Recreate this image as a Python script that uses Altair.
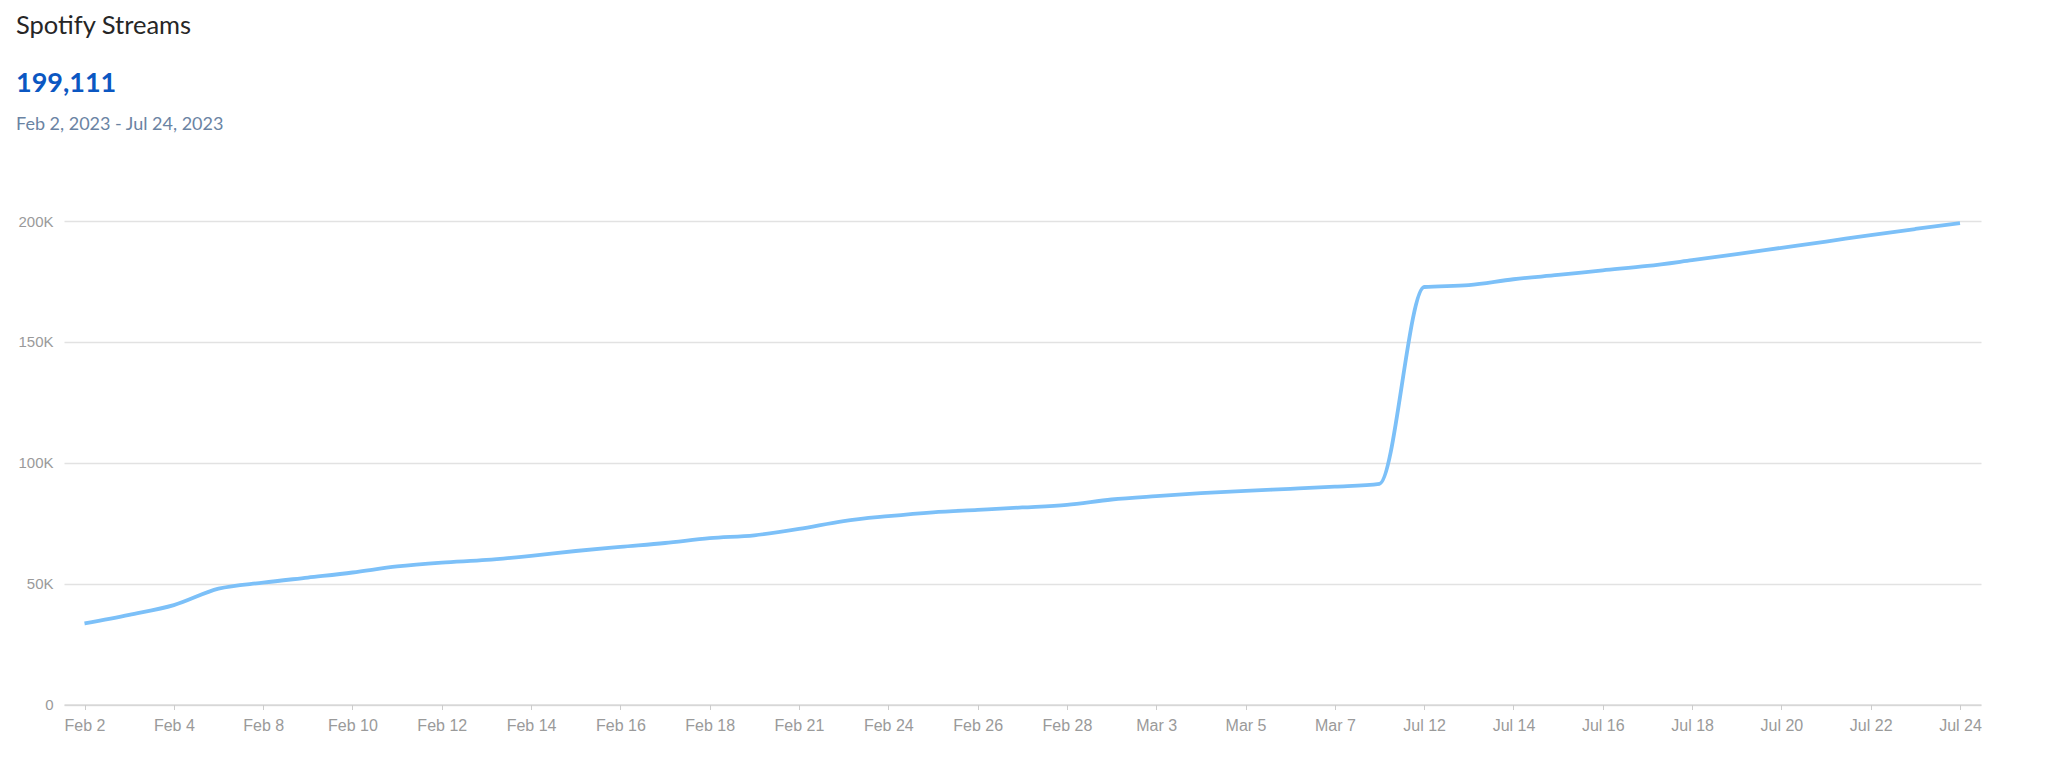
import altair as alt
import pandas as pd

# Tick labels (every second data point)
tick_labels = ["Feb 2", "Feb 4", "Feb 8", "Feb 10", "Feb 12", "Feb 14", "Feb 16", "Feb 18",
               "Feb 21", "Feb 24", "Feb 26", "Feb 28", "Mar 3", "Mar 5", "Mar 7",
               "Jul 12", "Jul 14", "Jul 16", "Jul 18", "Jul 20", "Jul 22", "Jul 24"]

# Cumulative streams (thousands), one per data point
streams_k = [33.5, 37.1, 41.1, 47.9, 50.4, 52.5, 54.6, 57.1, 58.7, 59.8,
             61.5, 63.5, 65.2, 66.8, 68.8, 70.0, 72.6, 75.9, 77.9, 79.5,
             80.5, 81.5, 82.6, 84.8, 86.2, 87.4, 88.4, 89.2, 90.1, 91.3,
             172.7, 173.5, 175.9, 177.7, 179.6, 181.4, 183.8, 186.3, 188.9, 191.5,
             194.2, 196.7, 199.111]

title_text = "Spotify Streams"
total_text = "199,111"
range_text = "Feb 2, 2023 - Jul 24, 2023"

df = pd.DataFrame({"idx": list(range(len(streams_k))),
                   "streams": [v * 1000 for v in streams_k]})

label_arr = "[" + ",".join("'" + s + "'" for s in tick_labels) + "]"

W = 1917
H = 483.5

line = alt.Chart(df).mark_line(
    color="#7cc0f8", strokeWidth=3.8, interpolate="monotone"
).encode(
    x=alt.X("idx:Q",
            scale=alt.Scale(domain=[-0.46, 42.47], nice=False, zero=False),
            axis=alt.Axis(values=list(range(0, 43, 2)),
                          labelExpr=label_arr + "[datum.value/2]",
                          title=None, grid=False,
                          domainColor="#cccccc", domainWidth=1.2,
                          tickColor="#cccccc", tickSize=5,
                          labelPadding=8, labelFont="Liberation Sans",
                          labelFontSize=16, labelColor="#9a9a9a",
                          labelFlush=False, labelOverlap=False)),
    y=alt.Y("streams:Q",
            scale=alt.Scale(domain=[0, 200000], nice=False),
            axis=alt.Axis(values=[0, 50000, 100000, 150000, 200000],
                          labelExpr="datum.value == 0 ? '0' : (datum.value/1000) + 'K'",
                          title=None, domain=False, ticks=False,
                          gridColor="#e2e2e2", gridWidth=1.3,
                          labelPadding=11, labelFont="Liberation Sans",
                          labelFontSize=15, labelColor="#9a9a9a"))
)

head_df = pd.DataFrame({"t": [title_text]})
title_mark = alt.Chart(head_df).mark_text(
    align="left", baseline="alphabetic", font="Lato", fontSize=25.5,
    color="#262626"
).encode(text="t:N", x=alt.value(-48), y=alt.value(-187))

num_df = pd.DataFrame({"t": [total_text]})
num_mark = alt.Chart(num_df).mark_text(
    align="left", baseline="alphabetic", font="Lato", fontSize=27,
    fontWeight="bold", color="#0b57c2"
).encode(text="t:N", x=alt.value(-48), y=alt.value(-129))

rng_df = pd.DataFrame({"t": [range_text]})
rng_mark = alt.Chart(rng_df).mark_text(
    align="left", baseline="alphabetic", font="Lato", fontSize=18,
    color="#6a83a3"
).encode(text="t:N", x=alt.value(-48), y=alt.value(-91))

chart = alt.layer(line, title_mark, num_mark, rng_mark).properties(
    width=W, height=H,
    autosize=alt.AutoSizeParams(type="none"),
    padding={"left": 56, "top": 213, "right": 40, "bottom": 44}
).configure(background="white").configure_view(stroke=None, strokeWidth=0)

chart.save("out.html", embed_options={"renderer": "svg", "actions": False})
